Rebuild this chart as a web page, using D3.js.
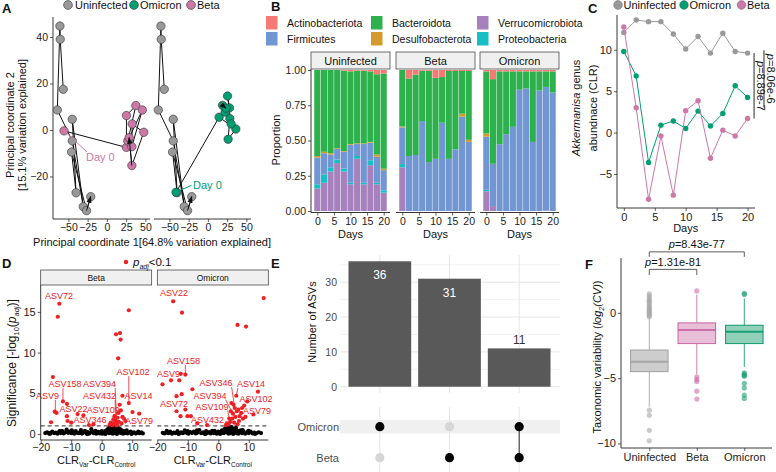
<!DOCTYPE html>
<html>
<head>
<meta charset="utf-8">
<script src="https://cdn.jsdelivr.net/npm/d3@7"></script>
<style>
  body { margin: 0; background: #fff; }
  svg { display: block; font-family: "Liberation Sans", Arial, sans-serif; }
</style>
</head>
<body>
<svg id="fig" width="776" height="472"></svg>
<script>
// ---------------- data ----------------
const groupNames = ['Uninfected', 'Omicron', 'Beta'];
const groupColors = ['#999999', '#009E73', '#CC79A7'];

// A : PCoA trajectories (day order)
const pcoaUninfected = [[-56.7,17.5],[-60.6,39],[-61,44.7],[-64.4,8.6],[-45,-4.7],[-30.7,-33],[-45,4.6],[-40,-27],[-45.9,-9.5],[-26.4,-34.7],[-21,-28.7]];
const pcoaBeta = [[-55.7,-0.4],[25.4,-7.5],[25.4,6.2],[37.6,10.5],[27.2,-4.7],[46,8.6],[32.4,-7.2],[32.8,2.6],[47.9,-1],[32.4,-15.3],[28.9,-3.3]];
const pcoaOmicron = [[-41.4,-26.8],[14.6,5.5],[36.3,0.4],[26.3,-4],[28.5,4.9],[30.2,2.6],[25.5,14.6],[28.1,9.5],[22.4,7.7],[19,10.6],[23.5,9.4]];
const pcoaTicksX = [-50, -25, 0, 25, 50];
const pcoaTicksY = [-20, 0, 20, 40];

// B : phylum proportions per sampling day
const days = [0,2,4,6,8,10,12,14,16,18,20];
const phyla = ['Actinobacteriota','Bacteroidota','Verrucomicrobiota','Firmicutes','Desulfobacterota','Proteobacteria'];
const phylaColors = ['#F47A73','#2CB14C','#A681BD','#7196D1','#D49B2C','#17BEC4'];
const stackOrder = ['Verrucomicrobiota','Proteobacteria','Firmicutes','Desulfobacterota','Bacteroidota','Actinobacteriota'];

const uninfActino  = [0,0,0,0,.005,.01,.005,.005,.01,.03,.025];
const uninfBactero = [.61,.58,.59,.555,.57,.515,.515,.515,.50,.57,.675];
const uninfDesulfo = [.01,.01,.01,.005,.005,.005,.005,.005,.005,.015,.01];
const uninfFirmi   = [.19,.15,.09,.075,.12,.27,.085,.275,.125,.185,.143];
const uninfProteo  = [.03,.06,.03,.025,.02,.01,.02,.01,.035,.01,.017];
const uninfVerruco = [.16,.20,.28,.34,.28,.19,.37,.19,.325,.19,.13];

const betaActino  = [0,.06,.033,.005,.005,.055,.05,.007,.007,.007,.007];
const betaBactero = [.40,.55,.57,.357,.648,.575,.324,.623,.556,.303,.488];
const betaDesulfo = [.007,0,0,0,0,0,0,0,0,.021,.015];
const betaFirmi   = [.26,.39,.397,.638,.347,.37,.626,.37,.437,.669,.49];
const betaProteo  = [.023,0,0,0,0,0,0,0,0,0,0];
const betaVerruco = [.31,0,0,0,0,0,0,0,0,0,0];

const omiActino  = [.01,.065,.01,.01,.01,.01,.01,.01,.01,.01,.01];
const omiBactero = [.44,.60,.516,.445,.393,.13,.12,.50,.135,.11,.15];
const omiDesulfo = [.023,0,0,0,0,0,0,0,0,0,0];
const omiFirmi   = [.377,.30,.474,.545,.597,.86,.87,.49,.855,.875,.84];
const omiProteo  = [.01,0,0,0,0,0,0,0,0,0,0];
const omiVerruco = [.14,.035,0,0,0,0,0,0,0,.005,0];

// C : Akkermansia CLR abundance
const akkUninfected = [12.1,13.6,13.4,13.4,11.9,10.1,11.6,9.6,12.0,9.8,9.6];
const akkOmicron    = [9.8,6.85,-3.6,0.9,1.4,0.5,2.6,0.8,2.3,5.65,4.25];
const akkBeta       = [12.75,3.0,-8.05,-0.4,-7.55,2.65,3.85,-3.1,0.3,-0.4,1.7];
const akkTests = [['p=8.06e-6', 9.95, 3.05, 22.65], ['p=8.89e-7', 9.6, 1.7, 21.05]];

// D : volcano points [CLR difference, -log10 padj]
const sigBeta = [[-13.9,16.0],[-14.4,14.4],[8.9,15.2],[4.7,12.25],[6.0,12.4],[6.2,11.6],[5.4,9.3],[-16.0,7.0],
  [-15.4,2.75],[-14.8,2.6],[-12.7,4.0],[-11.4,3.7],[-11.4,2.2],[-11.2,1.6],[-7.9,2.45],[-6.0,2.3],[-16.6,1.45],[-2.7,1.2],
  [6.8,4.7],[8.9,3.8],[10.1,2.7],[12.3,2.5],[5.9,3.6],[7.3,1.9],[6.3,2.9],[5.0,1.2],[4.5,1.6],[4.0,1.3],[3.5,1.1],
  [3.0,1.4],[3.8,1.8],[4.2,2.2],[5.2,2.0],[5.6,1.5],[6.5,1.3],[4.8,1.05],[2.6,1.15],[5.5,2.6],[6.8,2.1],[7.8,1.6],[-4.2,1.1],[-10.0,1.4]];
const sigOmicron = [[-14.8,16.3],[-11.9,14.9],[6.3,13.4],[9.1,13.2],[14.9,16.7],
  [-12.3,7.4],[-10.8,7.3],[-18.3,6.1],[-15.5,6.6],[-12.8,6.6],[-8.5,5.5],[-13.7,4.65],[-12,4.9],[-13.7,2.8],[-10.8,3.0],[-12.4,2.2],[-10.1,2.2],[-9.0,2.2],[-6.9,1.3],[-3.7,1.1],
  [5.9,4.7],[9.5,4.0],[13.0,5.2],[8.1,1.9],[6.3,1.2],[5.4,3.2],[4.8,2.5],[3.9,1.5],[3.3,1.2],[8.5,3.5],[7.5,2.6],
  [4.3,3.8],[5.0,3.6],[6.6,3.0],[7.0,2.2],[4.6,1.9],[5.6,2.1],[6.1,2.8],[3.6,1.9],[2.8,1.3],[7.8,3.2],[5.2,1.4],[4.1,2.8],[6.8,1.6],[2.5,1.1],[8.9,2.1],[11.5,2.4]];
const nsBeta = [[-18.5,0.12],[-17.9,0.2],[-17.3,0.08],[-16.7,0.15],[-16.2,0.3],[-15.6,0.1],[-15.1,0.18],[-14.5,0.05],[-14.0,0.25],[-13.5,0.12],[-13.0,0.4],[-12.5,0.08],[-12.0,0.2],[-11.5,0.55],[-11.0,0.15],[-10.5,0.3],[-10.0,0.1],[-9.5,0.22],[-9.0,0.05],[-8.5,0.35],[-8.0,0.15],[-7.5,0.1],[-7.0,0.28],[-6.5,0.06],[-6.0,0.18],[-5.5,0.4],[-5.0,0.1],[-4.6,0.25],[-4.2,0.05],[-3.8,0.15],[-3.4,0.6],[-3.0,0.3],[-2.6,0.1],[-2.2,0.2],[-1.8,0.05],[-1.4,0.12],[-1.0,0.28],[-0.6,0.08],[-0.2,0.18],[0.2,0.05],[0.5,0.22],[0.8,0.12],[1.1,0.35],[1.4,0.15],[1.7,0.5],[2.0,0.25],[2.2,0.7],[2.5,0.4],[2.7,0.9],[2.9,0.15],[3.1,0.6],[3.3,0.3],[3.5,0.8],[3.7,0.45],[3.9,0.2],[4.1,0.65],[4.3,0.35],[4.5,0.9],[4.7,0.1],[4.9,0.55],[5.2,0.25],[5.5,0.7],[5.8,0.4],[6.1,0.15],[6.4,0.5],[6.8,0.2],[7.2,0.35],[7.6,0.1],[8.0,0.25],[8.5,0.08],[9.0,0.18],[9.5,0.3],[10.0,0.1],[10.6,0.2],[11.2,0.06],[11.8,0.15],[12.4,0.1],[13.0,0.2],[13.5,0.08],
  [-17.0,0.02],[-13.8,0.35],[-9.8,0.45],[-6.8,0.5],[-4.8,0.02],[-2.0,0.4],[0.0,0.35],[1.2,0.02],[2.4,0.1],[3.6,0.05],[4.4,0.15],[5.0,0.02],[6.0,0.6],[7.0,0.05],[8.2,0.45],[9.8,0.02],[12.0,0.3]];
const nsOmicron = [[-18.2,0.15],[-17.6,0.08],[-17.0,0.22],[-16.4,0.1],[-15.8,0.3],[-15.2,0.05],[-14.6,0.18],[-14.0,0.12],[-13.4,0.35],[-12.8,0.08],[-12.2,0.2],[-11.6,0.1],[-11.0,0.45],[-10.4,0.15],[-9.8,0.05],[-9.2,0.25],[-8.6,0.12],[-8.0,0.3],[-7.4,0.08],[-6.8,0.18],[-6.2,0.5],[-5.6,0.1],[-5.0,0.22],[-4.5,0.05],[-4.0,0.35],[-3.5,0.15],[-3.0,0.25],[-2.5,0.08],[-2.0,0.4],[-1.5,0.12],[-1.0,0.2],[-0.5,0.05],[0.0,0.3],[0.4,0.1],[0.8,0.25],[1.2,0.45],[1.6,0.15],[2.0,0.6],[2.3,0.3],[2.6,0.8],[2.9,0.5],[3.2,0.95],[3.5,0.2],[3.8,0.7],[4.1,0.4],[4.4,0.85],[4.7,0.15],[5.0,0.6],[5.3,0.3],[5.6,0.5],[6.0,0.1],[6.4,0.35],[6.8,0.2],[7.3,0.45],[7.8,0.1],[8.3,0.25],[8.8,0.05],[9.4,0.2],[10.0,0.12],[10.6,0.3],[11.2,0.08],[11.8,0.18],[12.5,0.1],[13.2,0.22],[14.0,0.12],
  [-16.9,0.4],[-13.0,0.02],[-10.0,0.35],[-7.0,0.45],[-4.2,0.02],[-1.2,0.38],[0.6,0.02],[1.8,0.1],[2.8,0.2],[3.4,0.05],[4.0,0.12],[4.9,0.02],[5.8,0.75],[6.6,0.05],[8.0,0.5],[9.9,0.4],[12.0,0.02]];
// labels: [name, label x, label y, point x, point y]
const labBeta = [['ASV72',-14.0,17.0,-13.9,16.0],['ASV158',-12.0,6.15,-12.7,4.0],['ASV394',-0.7,6.15,5.0,1.2],['ASV102',10.3,7.6,8.9,3.8],
  ['ASV9',-17.8,4.7,-15.2,2.7],['ASV432',-0.7,4.7,4.5,1.6],['ASV14',12.1,4.7,6.8,4.7],['ASV22',-9.2,3.1,-11.4,2.2],
  ['ASV109',0.5,2.95,4.0,1.3],['ASV346',-3.8,1.7,3.5,1.1],['ASV79',12.2,1.64,12.3,2.5]];
const labOmicron = [['ASV22',-14.5,17.35,-14.8,16.3],['ASV158',-11.4,8.97,-10.8,7.3],['ASV9',-16.3,7.37,-12.3,7.4],['ASV72',-14.5,3.69,-13.7,2.8],
  ['ASV346',-0.75,6.27,5.4,3.2],['ASV394',-2.7,4.71,4.8,2.5],['ASV109',-2.06,3.36,3.9,1.5],['ASV432',-3.5,1.73,3.3,1.2],
  ['ASV14',10.7,6.15,5.9,4.7],['ASV102',12.4,4.3,8.5,3.5],['ASV79',12.7,2.83,7.5,2.6]];

// E : UpSet
const upsetCounts = [36, 31, 11];
const upsetSets = [['Omicron'], ['Beta'], ['Omicron', 'Beta']];
const setRows = ['Omicron', 'Beta'];

// F : taxonomic variability
const boxCats = ['Uninfected', 'Beta', 'Omicron'];
const boxQ1 = [-4.5, -2.35, -2.35];
const boxMedian = [-3.75, -1.32, -1.45];
const boxQ3 = [-2.85, -0.77, -0.95];
const boxLow = [-7.2, -4.7, -4.15];
const boxHigh = [-0.4, 1.4, 1.1];
const outUninfected = [1.45,1.3,1.15,1.0,0.9,0.8,0.65,0.5,0.4,0.3,0.2,0.1,0.0,-0.1,-0.2,-0.3,-7.45,-7.85,-9.0,-9.8];
const outBeta = [1.68,-4.9,-5.1,-5.25,-6.0,-6.6];
const outOmicron = [1.5,1.4,-4.6,-4.7,-4.8,-4.85,-5.4,-5.75,-6.3,-6.55];
const boxTests = [['Uninfected','Beta','p=1.31e-81',3.33,2.9], ['Uninfected','Omicron','p=8.43e-77',4.67,4.29]];

// ---------------- helpers ----------------
const svg = d3.select('#fig');
const FONT = '"Liberation Sans", Arial, sans-serif';
const colorOf = g => groupColors[groupNames.indexOf(g)];

function axisStyle(g, size) {
  g.attr('font-size', size || 10.5).attr('font-family', FONT);
  g.select('.domain').remove();
  g.selectAll('.tick line').attr('stroke', '#333').attr('stroke-width', 0.8);
  g.selectAll('.tick text').attr('fill', '#222');
}
function hline(g, x1, x2, y, col) {
  g.append('line').attr('x1', x1).attr('x2', x2).attr('y1', y).attr('y2', y).attr('stroke', col || '#222').attr('stroke-width', 0.9);
}
function vline(g, x, y1, y2, col) {
  g.append('line').attr('x1', x).attr('x2', x).attr('y1', y1).attr('y2', y2).attr('stroke', col || '#222').attr('stroke-width', 0.9);
}
function label(g, x, y, s, size, opts) {
  const t = g.append('text').attr('x', x).attr('y', y).attr('font-size', size).attr('fill', '#111').text(s);
  if (opts) Object.keys(opts).forEach(k => t.attr(k, opts[k]));
  return t;
}
function panelLetter(x, y, s) {
  label(svg, x, y, s, 13, {'font-weight': 'bold'});
}

svg.append('defs').append('marker').attr('id', 'arrow')
  .attr('viewBox', '0 0 8 6').attr('refX', 7).attr('refY', 3)
  .attr('markerWidth', 7).attr('markerHeight', 5.5).attr('markerUnits', 'userSpaceOnUse')
  .attr('orient', 'auto')
  .append('path').attr('d', 'M0,0L8,3L0,6Z').attr('fill', '#111');

// ---------------- A ----------------
const gA = svg.append('g');
const yA = d3.scaleLinear([-38.3, 48.6], [219, 17]);
const xA1 = d3.scaleLinear([-70, 56], [53, 150]);
const xA2 = d3.scaleLinear([-70, 56], [154, 251]);

[xA1, xA2].forEach(xs => {
  gA.append('g').attr('transform', 'translate(0,219)')
    .call(d3.axisBottom(xs).tickValues(pcoaTicksX).tickSize(3).tickPadding(2))
    .call(axisStyle);
  hline(gA, xs.range()[0], xs.range()[1], 219);
});
gA.append('g').attr('transform', 'translate(53,0)')
  .call(d3.axisLeft(yA).tickValues(pcoaTicksY).tickSize(3).tickPadding(2))
  .call(axisStyle);
vline(gA, 53, 17, 219);

function trajectory(xs, pts, col) {
  const line = d3.line().x(d => xs(d[0])).y(d => yA(d[1]));
  gA.append('path').attr('d', line(pts)).attr('fill', 'none').attr('stroke', '#111').attr('stroke-width', 1);
  gA.append('g').selectAll('circle').data(pts).join('circle')
    .attr('cx', d => xs(d[0])).attr('cy', d => yA(d[1])).attr('r', 4.2)
    .attr('fill', col).attr('stroke', '#333').attr('stroke-width', 0.6);
  gA.append('path').attr('d', line(pts.slice(-2))).attr('fill', 'none')
    .attr('stroke', '#111').attr('stroke-width', 1).attr('marker-end', 'url(#arrow)');
}
trajectory(xA1, pcoaUninfected, colorOf('Uninfected'));
trajectory(xA1, pcoaBeta, colorOf('Beta'));
trajectory(xA2, pcoaUninfected, colorOf('Uninfected'));
trajectory(xA2, pcoaOmicron, colorOf('Omicron'));

// day 0 labels
{
  const bx = xA1(pcoaBeta[0][0]), by = yA(pcoaBeta[0][1]);
  gA.append('line').attr('x1', bx).attr('y1', by).attr('x2', bx + 23).attr('y2', by + 21).attr('stroke', colorOf('Beta')).attr('stroke-width', 1);
  label(gA, bx + 22, by + 30, 'Day 0', 11, {fill: colorOf('Beta')});
  const ox = xA2(pcoaOmicron[0][0]), oy = yA(pcoaOmicron[0][1]);
  gA.append('line').attr('x1', ox).attr('y1', oy).attr('x2', ox + 15.5).attr('y2', oy - 7).attr('stroke', colorOf('Omicron')).attr('stroke-width', 1);
  label(gA, ox + 17, oy - 3, 'Day 0', 11, {fill: colorOf('Omicron')});
}
label(gA, 152, 246, 'Principal coordinate 1[64.8% variation explained]', 11, {'text-anchor': 'middle'});
label(gA, 0, 0, 'Principal coordinate 2', 11, {'text-anchor': 'middle', transform: 'translate(14,125) rotate(-90)'});
label(gA, 0, 0, '[15.1% variation explained]', 11, {'text-anchor': 'middle', transform: 'translate(26,125) rotate(-90)'});

// legend A
[['Uninfected', 68, 75], ['Omicron', 134, 140], ['Beta', 191, 197]].forEach(([g, cx, tx]) => {
  gA.append('circle').attr('cx', cx).attr('cy', 5).attr('r', 4.4).attr('fill', colorOf(g)).attr('stroke', '#333').attr('stroke-width', 0.6);
  label(gA, tx, 9, g, 11);
});
panelLetter(2, 13, 'A');

// ---------------- B ----------------
const gB = svg.append('g');
const yB = d3.scaleLinear([0, 1], [211, 70]);
const facetsB = [
  {name: 'Uninfected', x0: 311, layers: {Actinobacteriota: uninfActino, Bacteroidota: uninfBactero, Desulfobacterota: uninfDesulfo, Firmicutes: uninfFirmi, Proteobacteria: uninfProteo, Verrucomicrobiota: uninfVerruco}},
  {name: 'Beta', x0: 396, layers: {Actinobacteriota: betaActino, Bacteroidota: betaBactero, Desulfobacterota: betaDesulfo, Firmicutes: betaFirmi, Proteobacteria: betaProteo, Verrucomicrobiota: betaVerruco}},
  {name: 'Omicron', x0: 480, layers: {Actinobacteriota: omiActino, Bacteroidota: omiBactero, Desulfobacterota: omiDesulfo, Firmicutes: omiFirmi, Proteobacteria: omiProteo, Verrucomicrobiota: omiVerruco}}
];
const phylumColor = p => phylaColors[phyla.indexOf(p)];

facetsB.forEach((f, fi) => {
  const xs = d3.scaleLinear([-1.9, 21.9], [f.x0, f.x0 + 79]);
  const rows = days.map((d, i) => {
    const r = {day: d};
    stackOrder.forEach(p => { r[p] = f.layers[p][i]; });
    return r;
  });
  const series = d3.stack().keys(stackOrder)(rows);
  const bw = xs(1.85) - xs(0);
  gB.append('g').selectAll('g').data(series).join('g')
    .attr('fill', s => phylumColor(s.key))
    .selectAll('rect').data(s => s).join('rect')
    .attr('x', d => xs(d.data.day) - bw / 2).attr('width', bw)
    .attr('y', d => yB(d[1])).attr('height', d => Math.max(0, yB(d[0]) - yB(d[1])));

  gB.append('g').attr('transform', 'translate(0,212.5)')
    .call(d3.axisBottom(xs).tickValues([0, 5, 10, 15, 20]).tickSize(3).tickPadding(2))
    .call(axisStyle);
  hline(gB, f.x0, f.x0 + 79, 212.5);
  gB.append('rect').attr('x', f.x0).attr('y', 52).attr('width', 79).attr('height', 17)
    .attr('fill', '#f0f0f0').attr('stroke', '#333').attr('stroke-width', 0.7);
  label(gB, f.x0 + 39.5, 65, f.name, 11, {'text-anchor': 'middle'});
  label(gB, f.x0 + 39.5, 238, 'Days', 11, {'text-anchor': 'middle'});
});
gB.append('g').attr('transform', 'translate(311,0)')
  .call(d3.axisLeft(yB).tickValues([0, .25, .5, .75, 1]).tickFormat(d3.format('.2f')).tickSize(3).tickPadding(2))
  .call(axisStyle);
vline(gB, 311, 69, 212.5);
label(gB, 0, 0, 'Proportion', 11, {'text-anchor': 'middle', transform: 'translate(280,140) rotate(-90)'});

// legend B (2 rows x 3 columns)
const legCols = [266, 371, 477];
phyla.forEach((p, i) => {
  const col = i % 3, row = Math.floor(i / 3);
  const x = legCols[col], y = 16 + row * 16;
  gB.append('rect').attr('x', x).attr('y', y).attr('width', 11.5).attr('height', 13.5).attr('fill', phylumColor(p));
  label(gB, x + 21, y + 11, p, 10.5);
});
panelLetter(271, 11, 'B');

// ---------------- C ----------------
const gC = svg.append('g');
const xC = d3.scaleLinear([-1.1, 21.2], [617, 755]);
const yC = d3.scaleLinear([-9.1, 14.2], [208, 15]);
gC.append('g').attr('transform', 'translate(0,208)')
  .call(d3.axisBottom(xC).tickValues([0, 5, 10, 15, 20]).tickSize(3).tickPadding(2))
  .call(g => axisStyle(g, 11));
gC.append('g').attr('transform', 'translate(617,0)')
  .call(d3.axisLeft(yC).tickValues([-5, 0, 5, 10]).tickSize(3).tickPadding(2))
  .call(g => axisStyle(g, 11));
hline(gC, 617, 755, 208);
vline(gC, 617, 15, 208);

[['Uninfected', akkUninfected], ['Omicron', akkOmicron], ['Beta', akkBeta]].forEach(([g, vals]) => {
  const pts = days.map((d, i) => [d, vals[i]]);
  gC.append('path').attr('d', d3.line().x(d => xC(d[0])).y(d => yC(d[1]))(pts))
    .attr('fill', 'none').attr('stroke', colorOf(g)).attr('stroke-width', 1);
  gC.append('g').selectAll('circle').data(pts).join('circle')
    .attr('cx', d => xC(d[0])).attr('cy', d => yC(d[1])).attr('r', 2.7).attr('fill', colorOf(g));
});
akkTests.forEach(([txt, y1, y2, xd]) => {
  const x = xC(xd);
  vline(gC, x, yC(y1), yC(y2), '#111');
  const t = gC.append('text').attr('font-size', 11).attr('fill', '#111').attr('text-anchor', 'middle')
    .attr('transform', `translate(${x + 3},${(yC(y1) + yC(y2)) / 2}) rotate(90)`);
  t.append('tspan').attr('font-style', 'italic').text('p');
  t.append('tspan').text(txt.slice(1));
});
label(gC, xC(10), 232, 'Days', 11, {'text-anchor': 'middle'});
{
  const t = gC.append('text').attr('font-size', 11).attr('fill', '#111').attr('text-anchor', 'middle')
    .attr('transform', 'translate(580,108) rotate(-90)');
  t.append('tspan').attr('font-style', 'italic').text('Akkermanisa');
  t.append('tspan').text(' genus');
  label(gC, 0, 0, 'abundnace (CLR)', 11, {'text-anchor': 'middle', transform: 'translate(597,108) rotate(-90)'});
}
[['Uninfected', 618, 623.5], ['Omicron', 684, 689.5], ['Beta', 741.5, 747]].forEach(([g, cx, tx]) => {
  gC.append('circle').attr('cx', cx).attr('cy', 5).attr('r', 4.4).attr('fill', colorOf(g)).attr('stroke', '#555').attr('stroke-width', 0.4);
  label(gC, tx, 9, g, 11);
});
panelLetter(588, 13, 'C');

// ---------------- D ----------------
const gD = svg.append('g');
const yD = d3.scaleLinear([-0.73, 18.3], [440, 285]);
const RED = '#EE2024';
const facetsD = [
  {name: 'Beta', range: [40.7, 151.7], ns: nsBeta, sig: sigBeta, labs: labBeta},
  {name: 'Omicron', range: [157.3, 268.3], ns: nsOmicron, sig: sigOmicron, labs: labOmicron}
];
facetsD.forEach(f => {
  const xs = d3.scaleLinear([-20, 16.4], f.range);
  const [x0, x1] = f.range;
  gD.append('g').attr('transform', 'translate(0,440)')
    .call(d3.axisBottom(xs).tickValues([-20, -10, 0, 10]).tickSize(3).tickPadding(1))
    .call(g => axisStyle(g, 10.5));
  hline(gD, x0, x1, 440);
  gD.append('rect').attr('x', x0).attr('y', 270).attr('width', x1 - x0).attr('height', 15)
    .attr('fill', '#f0f0f0').attr('stroke', '#333').attr('stroke-width', 0.7);
  label(gD, (x0 + x1) / 2, 281, f.name, 8.5, {'text-anchor': 'middle'});
  gD.append('line').attr('x1', x0).attr('x2', x1).attr('y1', yD(1)).attr('y2', yD(1))
    .attr('stroke', '#111').attr('stroke-width', 0.9).attr('stroke-dasharray', '4 3');
  gD.append('g').selectAll('circle').data(f.ns).join('circle')
    .attr('cx', d => xs(d[0])).attr('cy', d => yD(d[1])).attr('r', 2.1).attr('fill', '#000');
  gD.append('g').selectAll('circle').data(f.sig).join('circle')
    .attr('cx', d => xs(d[0])).attr('cy', d => yD(d[1])).attr('r', 2.1).attr('fill', RED);
  f.labs.forEach(([name, lx, ly, px, py]) => {
    const X = xs(lx), Y = yD(ly), PX = xs(px), PY = yD(py);
    const w = name.length * 5.2;
    const ex = Math.max(X - w / 2, Math.min(PX, X + w / 2));
    const ey = PY > Y ? Y + 4 : Y - 4;
    if (Math.hypot(PX - ex, PY - ey) > 7) {
      gD.append('line').attr('x1', ex).attr('y1', ey).attr('x2', PX).attr('y2', PY)
        .attr('stroke', RED).attr('stroke-width', 0.8);
    }
    label(gD, X, Y, name, 9, {'text-anchor': 'middle', dy: '0.35em', fill: RED});
  });
  const t = gD.append('text').attr('x', (x0 + x1) / 2).attr('y', 464).attr('font-size', 11)
    .attr('fill', '#111').attr('text-anchor', 'middle');
  t.append('tspan').text('CLR');
  t.append('tspan').attr('font-size', 6.5).attr('dy', 2.5).text('Var');
  t.append('tspan').attr('dy', -2.5).text('-CLR');
  t.append('tspan').attr('font-size', 6.5).attr('dy', 2.5).text('Control');
});
gD.append('g').attr('transform', 'translate(40.7,0)')
  .call(d3.axisLeft(yD).tickValues([0, 5, 10, 15]).tickSize(3).tickPadding(2))
  .call(g => axisStyle(g, 11));
vline(gD, 40.7, 285, 440);
{
  const t = gD.append('text').attr('font-size', 12).attr('fill', '#111').attr('text-anchor', 'middle')
    .attr('transform', 'translate(16,363) rotate(-90)');
  t.append('tspan').text('Significance [-log');
  t.append('tspan').attr('font-size', 7.5).attr('dy', 3).text('10');
  t.append('tspan').attr('dy', -3).text('(');
  t.append('tspan').attr('font-style', 'italic').text('p');
  t.append('tspan').attr('font-style', 'italic').attr('font-size', 7.5).attr('dy', 3).text('adj');
  t.append('tspan').attr('dy', -3).text(')]');
  gD.append('circle').attr('cx', 126).attr('cy', 262).attr('r', 2.2).attr('fill', RED);
  const l = gD.append('text').attr('x', 133).attr('y', 266).attr('font-size', 11.5).attr('fill', '#111');
  l.append('tspan').attr('font-style', 'italic').text('p');
  l.append('tspan').attr('font-style', 'italic').attr('font-size', 7).attr('dy', 2.5).text('adj');
  l.append('tspan').attr('dy', -2.5).text('<0.1');
}
panelLetter(2, 268, 'D');

// ---------------- E ----------------
const gE = svg.append('g');
const xE = d3.scaleBand([0, 1, 2], [345, 554]).paddingInner(0.1).paddingOuter(0.05);
const yE = d3.scaleLinear([-1.8, 37.8], [393, 255]);
const rowY = d3.scalePoint(setRows, [426.7, 457.7]);
[5, 15, 25, 35].forEach(v => hline(gE, 340, 560, yE(v), '#f2f2f2'));
[0, 10, 20, 30].forEach(v => gE.append('line').attr('x1', 340).attr('x2', 560).attr('y1', yE(v)).attr('y2', yE(v)).attr('stroke', '#e6e6e6').attr('stroke-width', 1));
gE.append('rect').attr('x', 340).attr('y', rowY('Omicron') - 6.7).attr('width', 220).attr('height', 13.4).attr('fill', '#f0f0f0');
upsetCounts.forEach((c, i) => {
  const cx = xE(i) + xE.bandwidth() / 2;
  gE.append('line').attr('x1', cx).attr('x2', cx).attr('y1', 255).attr('y2', 393).attr('stroke', '#e6e6e6').attr('stroke-width', 1);
  gE.append('line').attr('x1', cx).attr('x2', cx).attr('y1', 407).attr('y2', 472).attr('stroke', '#e6e6e6').attr('stroke-width', 1);
});
gE.append('g').selectAll('rect').data(upsetCounts).join('rect')
  .attr('x', (d, i) => xE(i)).attr('width', xE.bandwidth())
  .attr('y', d => yE(d)).attr('height', d => yE(0) - yE(d)).attr('fill', '#595959');
upsetCounts.forEach((c, i) => {
  const cx = xE(i) + xE.bandwidth() / 2;
  const inside = c > 20;
  label(gE, cx, inside ? yE(c) + 18 : yE(c) - 4, String(c), 12, {'text-anchor': 'middle', fill: inside ? '#fff' : '#333'});
  const ys = upsetSets[i].map(s => rowY(s));
  if (ys.length > 1) vline(gE, cx, d3.min(ys), d3.max(ys), '#111');
  setRows.forEach(r => {
    gE.append('circle').attr('cx', cx).attr('cy', rowY(r)).attr('r', 4.6)
      .attr('fill', upsetSets[i].includes(r) ? '#000' : '#d6d6d6');
  });
});
gE.append('g').attr('transform', 'translate(340,0)')
  .call(d3.axisLeft(yE).tickValues([0, 10, 20, 30]).tickSize(0).tickPadding(3))
  .call(g => { axisStyle(g, 10.5); g.selectAll('.tick text').attr('fill', '#4d4d4d'); });
setRows.forEach(r => label(gE, 339, rowY(r), r, 11, {'text-anchor': 'end', dy: '0.35em', fill: '#4d4d4d'}));
label(gE, 0, 0, 'Number of ASVs', 11, {'text-anchor': 'middle', transform: 'translate(316,322) rotate(-90)'});
panelLetter(271, 268, 'E');

// ---------------- F ----------------
const gF = svg.append('g');
const xF = d3.scalePoint(boxCats, [620.8, 772.8]).padding(0.6);
const yF = d3.scaleLinear([-10.35, 4.2], [448, 258]);
const boxStroke = ['#A6A6A6', '#CC6FA9', '#1C9E77'];
const boxFill = ['#CDCDCD', '#E9BED8', '#92D1B9'];
const boxOut = [outUninfected, outBeta, outOmicron];
const bwF = 37.5;
boxCats.forEach((c, i) => {
  const cx = xF(c);
  vline(gF, cx, yF(boxHigh[i]), yF(boxQ3[i]), boxStroke[i]);
  vline(gF, cx, yF(boxQ1[i]), yF(boxLow[i]), boxStroke[i]);
  gF.append('rect').attr('x', cx - bwF / 2).attr('width', bwF)
    .attr('y', yF(boxQ3[i])).attr('height', yF(boxQ1[i]) - yF(boxQ3[i]))
    .attr('fill', boxFill[i]).attr('stroke', boxStroke[i]).attr('stroke-width', 1.1);
  gF.append('line').attr('x1', cx - bwF / 2).attr('x2', cx + bwF / 2)
    .attr('y1', yF(boxMedian[i])).attr('y2', yF(boxMedian[i]))
    .attr('stroke', boxStroke[i]).attr('stroke-width', 2);
  gF.append('g').selectAll('circle').data(boxOut[i]).join('circle')
    .attr('cx', cx).attr('cy', d => yF(d)).attr('r', 2.6)
    .attr('fill', boxStroke[i]).attr('fill-opacity', 0.6);
});
gF.append('g').attr('transform', 'translate(0,448)')
  .call(d3.axisBottom(xF).tickSize(3).tickPadding(2))
  .call(g => axisStyle(g, 11));
gF.append('g').attr('transform', 'translate(621,0)')
  .call(d3.axisLeft(yF).tickValues([-10, -5, 0]).tickSize(3).tickPadding(2))
  .call(g => axisStyle(g, 11));
hline(gF, 621, 772, 448);
vline(gF, 621, 258, 448);
boxTests.forEach(([a, b, txt, yTop, yFoot]) => {
  const xa = xF(a), xb = xF(b);
  gF.append('path').attr('d', `M${xa},${yF(yFoot)}V${yF(yTop)}H${xb}V${yF(yFoot)}`)
    .attr('fill', 'none').attr('stroke', '#333').attr('stroke-width', 0.8);
  const t = gF.append('text').attr('x', (xa + xb) / 2).attr('y', yF(yTop) - 3.5)
    .attr('font-size', 11).attr('fill', '#111').attr('text-anchor', 'middle');
  t.append('tspan').attr('font-style', 'italic').text('p');
  t.append('tspan').text(txt.slice(1));
});
{
  const t = gF.append('text').attr('font-size', 11).attr('fill', '#111').attr('text-anchor', 'middle')
    .attr('transform', 'translate(601,357) rotate(-90)');
  t.append('tspan').text('Taxonomic variability (');
  t.append('tspan').attr('font-style', 'italic').text('log');
  t.append('tspan').attr('font-style', 'italic').attr('font-size', 7).attr('dy', 2.5).text('2');
  t.append('tspan').attr('font-style', 'italic').attr('dy', -2.5).text('(CV)');
  t.append('tspan').text(')');
}
panelLetter(585, 269, 'F');
</script>
</body>
</html>
